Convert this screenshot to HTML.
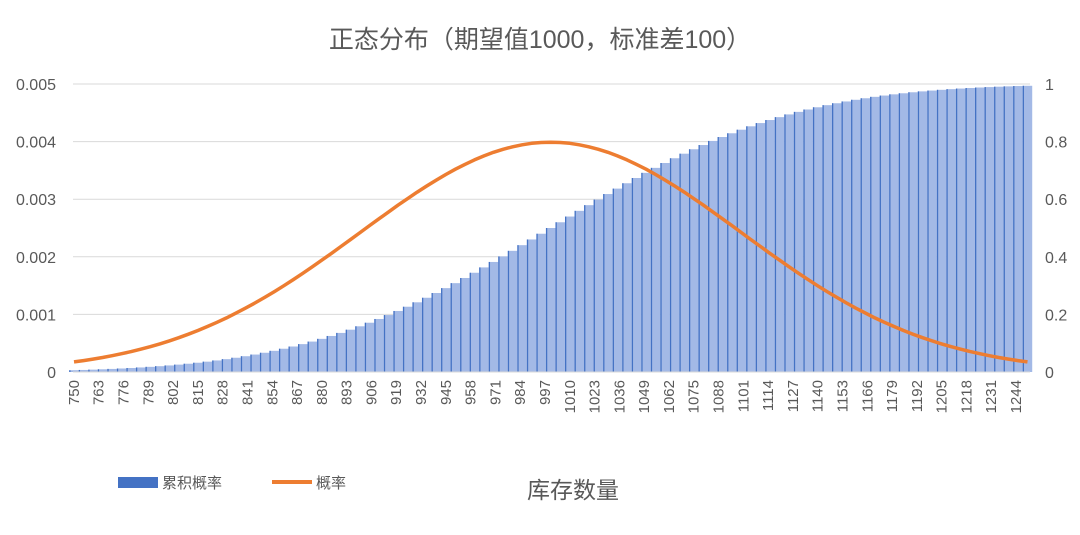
<!DOCTYPE html>
<html><head><meta charset="utf-8"><style>
body{margin:0;background:#fff;}
svg{display:block;font-family:"Liberation Sans","Noto Sans CJK SC",sans-serif;}
</style></head><body>
<svg id="chart" width="1080" height="535">
<text x="540" y="48" text-anchor="middle" font-size="25" fill="#595959">正态分布（期望值1000，标准差100）</text>
<g id="grid"></g><g id="bars"></g><g id="line"></g><g id="axes"></g>
<g>
<rect x="118" y="477" width="40" height="11" fill="#4472c4"/>
<text x="162" y="488" font-size="15" fill="#595959">累积概率</text>
<line x1="272" y1="482" x2="312" y2="482" stroke="#ed7d31" stroke-width="4"/>
<text x="316" y="488" font-size="15" fill="#595959">概率</text>
</g>
<text x="573" y="498" text-anchor="middle" font-size="23" fill="#595959">库存数量</text>
</svg>
<script>
const categories = [];
for (let v = 750; v <= 1250; v += 5) categories.push(v);
const pdfHalf = [0.003989,0.003984,0.003970,0.003945,0.003910,0.003867,0.003814,0.003752,0.003683,0.003605,0.003521,0.003429,0.003332,0.003230,0.003123,0.003011,0.002897,0.002780,0.002661,0.002541,0.002420,0.002299,0.002179,0.002059,0.001942,0.001826,0.001714,0.001604,0.001497,0.001394,0.001295,0.001200,0.001109,0.001023,0.000940,0.000863,0.000790,0.000721,0.000656,0.000596,0.000540,0.000488,0.000440,0.000396,0.000355,0.000317,0.000283,0.000252,0.000224,0.000198,0.000175];
const cdfHalf = [0.5000,0.5199,0.5398,0.5596,0.5793,0.5987,0.6179,0.6368,0.6554,0.6736,0.6915,0.7088,0.7257,0.7422,0.7580,0.7734,0.7881,0.8023,0.8159,0.8289,0.8413,0.8531,0.8643,0.8749,0.8849,0.8944,0.9032,0.9115,0.9192,0.9265,0.9332,0.9394,0.9452,0.9505,0.9554,0.9599,0.9641,0.9678,0.9713,0.9744,0.9772,0.9798,0.9821,0.9842,0.9861,0.9878,0.9893,0.9906,0.9918,0.9929,0.9938];
const pdfValues = pdfHalf.slice(1).reverse().concat(pdfHalf);
const cdfValues = cdfHalf.slice(1).reverse().map(c => +(1 - c).toFixed(4)).concat(cdfHalf);
const leftTicks = ["0","0.001","0.002","0.003","0.004","0.005"];
const rightTicks = ["0","0.2","0.4","0.6","0.8","1"];
const xTickLabels = [750,763,776,789,802,815,828,841,854,867,880,893,906,919,932,945,958,971,984,997,1010,1023,1036,1049,1062,1075,1088,1101,1114,1127,1140,1153,1166,1179,1192,1205,1218,1231,1244];

const NS = "http://www.w3.org/2000/svg";
const X0 = 73, UNIT = 1.907, Y0 = 372, Y1 = 84;
const x = v => X0 + (v - 750 + 0.5) * UNIT;
const yL = v => Y0 - v / 0.005 * (Y0 - Y1);
const yR = v => Y0 - v * (Y0 - Y1);
function mk(tag, attrs, parent) {
  const e = document.createElementNS(NS, tag);
  for (const k in attrs) e.setAttribute(k, attrs[k]);
  document.getElementById(parent).appendChild(e);
  return e;
}
for (let i = 0; i < leftTicks.length; i++) {
  const yy = Y0 - i * (Y0 - Y1) / 5;
  const g = mk("line", {x1: X0, x2: 1030, y1: yy, y2: yy, stroke: "#d9d9d9", "stroke-width": 1}, "grid");
  
  
  const t = mk("text", {x: 56, y: yy + 6, "text-anchor": "end", "font-size": 16, fill: "#595959"}, "axes");
  t.textContent = leftTicks[i];
  
  
  const r = mk("text", {x: 1045, y: yy + 6, "font-size": 16, fill: "#595959"}, "axes");
  r.textContent = rightTicks[i];
  
  
}
const bw = 5 * UNIT;
categories.forEach((c, i) => {
  const top = yR(cdfValues[i]);
  const b = mk("rect", {x: x(c) - bw / 2, y: top, width: bw, height: Y0 - top, fill: "#a3b9e6"}, "bars");
  
  
  const l = mk("rect", {x: x(c) - bw / 2, y: top, width: 1.3, height: Y0 - top, fill: "#4472c4"}, "bars");
  
  
});
const d = categories.map((c, i) => (i ? "L" : "M") + x(c).toFixed(1) + "," + yL(pdfValues[i]).toFixed(1)).join(" ");
const p = mk("path", {d: d, fill: "none", stroke: "#ed7d31", "stroke-width": 3.5, "stroke-linejoin": "round"}, "line");


const ax = mk("line", {x1: X0, x2: 1030, y1: Y0, y2: Y0, stroke: "#d9d9d9"}, "axes");


xTickLabels.forEach(v => {
  const xx = x(v) + 5;
  const t = mk("text", {x: xx, y: 380, "text-anchor": "end", "font-size": 15, fill: "#595959", transform: `rotate(-90 ${xx} 380)`}, "axes");
  t.textContent = v;
  
  
});
</script>
</body></html>
